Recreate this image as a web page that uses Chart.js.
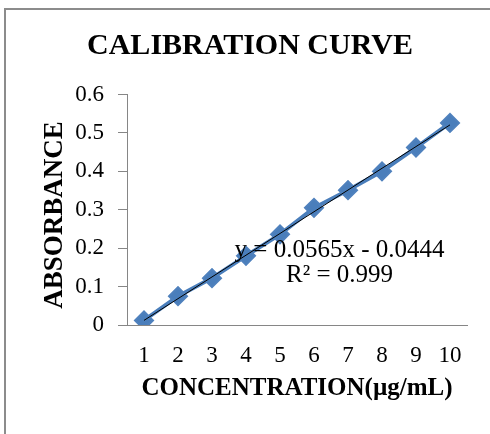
<!DOCTYPE html>
<html>
<head>
<meta charset="utf-8">
<script src="https://cdn.jsdelivr.net/npm/chart.js@4.4.1/dist/chart.umd.min.js"></script>
<style>
  html, body { margin: 0; padding: 0; background: #ffffff; }
  #wrap { position: relative; width: 490px; height: 434px; }
</style>
</head>
<body>
<div id="wrap"><canvas id="c" width="490" height="434"></canvas></div>
<script>
// ---- data ----
const concentrations = ['1', '2', '3', '4', '5', '6', '7', '8', '9', '10'];
const absorbance = [0.012, 0.075, 0.122, 0.180, 0.236, 0.305, 0.351, 0.400, 0.462, 0.526];
// linear trendline end points (at concentration 1 and 10)
const trendline = [0.012, null, null, null, null, null, null, null, null, 0.521];
const yTicks = [0, 0.1, 0.2, 0.3, 0.4, 0.5, 0.6];
const chartTitle = 'CALIBRATION CURVE';
const xTitle = 'CONCENTRATION(\u00b5g/mL)';
const yTitle = 'ABSORBANCE';
const equationLines = ['y = 0.0565x - 0.0444', 'R\u00b2 = 0.999'];

const SERIF = "'Liberation Serif', 'Times New Roman', serif";
const AXIS_GRAY = '#868686';

const framePlugin = {
  id: 'frame',
  beforeDraw(chart) {
    const ctx = chart.ctx;
    ctx.save();
    ctx.fillStyle = '#ffffff';
    ctx.fillRect(0, 0, chart.width, chart.height);
    ctx.fillStyle = '#8c8c8c';
    ctx.fillRect(4, 8, chart.width - 4, 2);
    ctx.fillRect(4, 8, 2, chart.height - 8);
    ctx.restore();
  }
};

const textPlugin = {
  id: 'texts',
  afterDraw(chart) {
    const ctx = chart.ctx;
    ctx.save();
    ctx.fillStyle = '#000000';
    // chart title
    ctx.font = 'bold 30px ' + SERIF;
    ctx.textAlign = 'center';
    ctx.textBaseline = 'alphabetic';
    ctx.fillText(chartTitle, 250, 54);
    // y-axis title
    ctx.save();
    ctx.translate(62, 215);
    ctx.rotate(-Math.PI / 2);
    ctx.font = 'bold 27px ' + SERIF;
    ctx.fillText(yTitle, 0, 0);
    ctx.restore();
    // trendline equation
    ctx.font = '25px ' + SERIF;
    ctx.fillText(equationLines[0], 339.5, 256.5);
    ctx.fillText(equationLines[1], 339.5, 282);
    ctx.restore();
  }
};

new Chart(document.getElementById('c'), {
  type: 'line',
  data: {
    labels: concentrations,
    datasets: [
      {
        label: 'Linear',
        data: trendline,
        spanGaps: true,
        borderColor: '#000000',
        borderWidth: 1,
        pointRadius: 0,
        tension: 0,
        order: 0
      },
      {
        label: 'Absorbance',
        data: absorbance,
        borderColor: '#4a7ebb',
        backgroundColor: '#4a7ebb',
        borderWidth: 4,
        pointStyle: 'rectRot',
        pointRadius: 9,
        pointBorderWidth: 2,
        pointBackgroundColor: '#4a7ebb',
        pointBorderColor: '#4f81bd',
        tension: 0,
        order: 1
      }
    ]
  },
  options: {
    responsive: false,
    animation: false,
    devicePixelRatio: 1,
    layout: { padding: { left: 0, right: 23, top: 94.5, bottom: 0 } },
    plugins: {
      legend: { display: false },
      tooltip: { enabled: false },
      title: { display: false }
    },
    scales: {
      x: {
        type: 'category',
        offset: true,
        grid: { display: true, drawOnChartArea: false, drawTicks: false, color: AXIS_GRAY },
        border: { display: true, color: AXIS_GRAY, width: 1 },
        ticks: {
          color: '#000000',
          font: { family: SERIF, size: 23 },
          padding: 17,
          maxRotation: 0,
          autoSkip: false
        },
        title: {
          display: true,
          text: xTitle,
          color: '#000000',
          font: { family: SERIF, size: 25, weight: 'bold', lineHeight: 1.2 },
          padding: { top: 0, bottom: 30 }
        },
        afterFit(scale) { scale.height = 434 - 325 - 94.5 + 94.5; }
      },
      y: {
        type: 'linear',
        min: 0,
        max: 0.6,
        afterBuildTicks(scale) { scale.ticks = yTicks.map(v => ({ value: v })); },
        grid: { display: true, drawOnChartArea: false, drawTicks: true, tickLength: 9, color: AXIS_GRAY },
        border: { display: true, color: AXIS_GRAY, width: 1 },
        ticks: {
          color: '#000000',
          font: { family: SERIF, size: 23 },
          padding: 14,
          callback: (v) => String(Math.round(v * 10) / 10)
        },
        title: { display: false },
        afterFit(scale) { scale.width = 127; }
      }
    }
  },
  plugins: [framePlugin, textPlugin]
});
</script>
</body>
</html>
